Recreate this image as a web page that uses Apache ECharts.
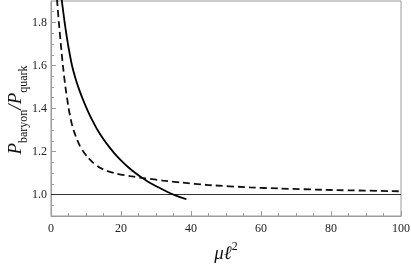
<!DOCTYPE html>
<html>
<head>
<meta charset="utf-8">
<script src="https://cdn.jsdelivr.net/npm/echarts@6/dist/echarts.min.js"></script>
<style>html,body{margin:0;padding:0;background:#fff}#c{width:411px;height:266px}</style>
</head>
<body>
<div id="c"></div>
<script>
// Values
var solidX = [2.6, 3.1, 3.5, 3.9, 4.4, 5.0, 6.0, 7.0, 8.0, 9.0, 10.0, 11.0, 12.0, 13.3, 15, 16.5, 18.3, 20, 22, 24.1, 26, 28.6, 31.2, 33, 35.5, 38.7];
var solidY = [1.97, 1.90, 1.85, 1.80, 1.745, 1.685, 1.60, 1.54, 1.49, 1.447, 1.408, 1.372, 1.339, 1.30, 1.257, 1.224, 1.188, 1.159, 1.128, 1.10, 1.078, 1.051, 1.029, 1.014, 0.996, 0.978];
var dashedX = [1.45, 1.75, 2.25, 2.8, 3.4, 4.12, 5.05, 5.8, 6.5, 7.5, 8.3, 9.3, 10.5, 12, 14, 16, 18.5, 22.6, 27, 32, 37, 45, 57, 65, 80, 100];
var dashedY = [1.96, 1.90, 1.80, 1.70, 1.60, 1.50, 1.40, 1.338, 1.297, 1.253, 1.225, 1.198, 1.173, 1.148, 1.124, 1.11, 1.098, 1.085, 1.075, 1.065, 1.056, 1.044, 1.033, 1.028, 1.021, 1.015];
var refX = [0, 100];
var refY = [1.0, 1.0];
var yMajorTicks = [1.0, 1.2, 1.4, 1.6, 1.8];
var yMinorTicks = [0.95, 1.05, 1.1, 1.15, 1.25, 1.3, 1.35, 1.45, 1.5, 1.55, 1.65, 1.7, 1.75, 1.85];
var xTitle = '{a|μℓ}{s|2}';
var yTitle = '{p|P}{b|baryon}{p|/P}{b|quark}';

function pairs(xs, ys) { return xs.map(function (x, i) { return [x, ys[i]]; }); }

var serif = '"Liberation Serif", "Times New Roman", serif';
var frame = '#9a9a9a';
var chart = echarts.init(document.getElementById('c'));
chart.setOption({
  animation: false,
  textStyle: { fontFamily: serif },
  grid: { left: 51, right: 10, top: 1, bottom: 50, show: true, borderColor: frame, borderWidth: 1,
    outerBoundsMode: 'none', containLabel: false },
  graphic: [{
    type: 'text', x: 18, y: 110, rotation: Math.PI / 2,
    style: {
      text: yTitle, align: 'center', verticalAlign: 'middle',
      rich: {
        p: { fontFamily: serif, fontStyle: 'italic', fontSize: 19, fill: '#111', lineHeight: 24, verticalAlign: 'top' },
        b: { fontFamily: serif, fontSize: 12, fill: '#111', lineHeight: 24, verticalAlign: 'bottom' }
      }
    }
  }],
  xAxis: {
    type: 'value', min: 0, max: 100, interval: 20,
    axisLine: { show: true, lineStyle: { color: frame, width: 1 } },
    axisTick: { show: true, inside: true, length: 5, lineStyle: { color: frame } },
    minorTick: { show: true, splitNumber: 4, length: 3, lineStyle: { color: frame } },
    splitLine: { show: false },
    axisLabel: { color: '#222', fontFamily: serif, fontSize: 12, margin: 7 },
    name: xTitle,
    nameLocation: 'middle', nameGap: 25,
    nameTextStyle: {
      rich: {
        a: { fontFamily: serif, fontStyle: 'italic', fontSize: 19, color: '#111', lineHeight: 22, verticalAlign: 'bottom' },
        s: { fontFamily: serif, fontSize: 12, color: '#111', lineHeight: 22, verticalAlign: 'top' }
      }
    }
  },
  yAxis: [{
    type: 'value', min: 0.9, max: 1.9,
    axisLine: { show: true, lineStyle: { color: frame, width: 1 } },
    axisTick: { show: true, inside: true, length: 5, customValues: yMajorTicks, lineStyle: { color: frame } },
    splitLine: { show: false },
    axisLabel: { color: '#222', fontFamily: serif, fontSize: 12, margin: 4, customValues: yMajorTicks,
      formatter: function (v) { return v.toFixed(1); } }
  }, {
    type: 'value', min: 0.9, max: 1.9, position: 'left',
    axisLine: { show: false },
    axisTick: { show: true, inside: true, length: 3, customValues: yMinorTicks, lineStyle: { color: frame } },
    axisLabel: { show: false },
    splitLine: { show: false }
  }],
  series: [{
    type: 'line', data: pairs(refX, refY), symbol: 'none', yAxisIndex: 0,
    lineStyle: { color: '#333', width: 1 }, silent: true
  }, {
    type: 'line', data: pairs(solidX, solidY), symbol: 'none', smooth: 0.2, yAxisIndex: 0,
    lineStyle: { color: '#000', width: 1.8 }
  }, {
    type: 'line', data: pairs(dashedX, dashedY), symbol: 'none', smooth: 0.2, yAxisIndex: 0,
    lineStyle: { color: '#111', width: 1.8, type: [7, 4] }
  }]
});
</script>
</body>
</html>
